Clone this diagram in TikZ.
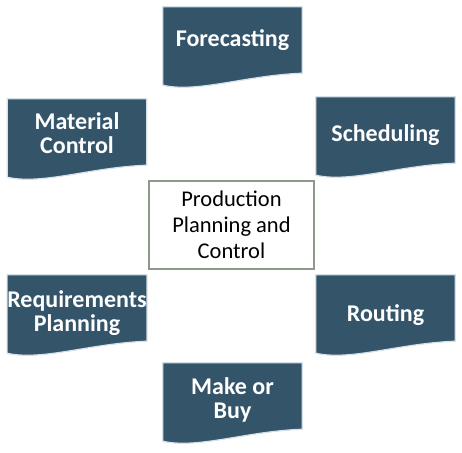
\documentclass[tikz,border=0pt]{standalone}
\usepackage{fontspec}
\setmainfont{Carlito}
\usetikzlibrary{calc,backgrounds}
\definecolor{docColor}{HTML}{34546A}
\definecolor{edgeColor}{RGB}{214,224,232}
\definecolor{frameColor}{RGB}{140,155,135}
\tikzset{
  doc/.style={minimum width=139pt, minimum height=66pt, inner sep=0pt,
    text=white, align=center, font=\bfseries\fontsize{24}{24}\selectfont},
  docfill/.style={fill=docColor, draw=edgeColor, line width=1.2pt},
  centre/.style={draw=frameColor, line width=2pt, minimum width=165pt,
    minimum height=88pt, inner sep=0pt, align=center,
    font=\fontsize{22.5}{26}\selectfont}
}
% document shape behind a named node, optionally raised by #1
\newcommand\docshape[2][0]{%
  \begin{scope}[on background layer]
    \path[docfill] ($(#2.north west)+(0,-#1)$) -- ($(#2.north east)+(0,-#1)$)
      -- ($(#2.south east)+(0,-#1)$)
      .. controls ($(#2.south east)+(-56,2-#1)$) and ($(#2.south west)+(35,20-#1)$)
      .. ($(#2.south west)+(0,12-#1)$) -- cycle;
  \end{scope}}
\begin{document}
\begin{tikzpicture}[x=1pt,y=-1pt]
\useasboundingbox (0,0) rectangle (462,452);
\node[centre] (ppc) at (231.5,225) {Production\\Planning and\\Control};
\node[doc] (fore) at (232.5,40) {Forecasting};
\node[doc] (sched) at (385.5,135) {Scheduling};
\node[doc] (matc) at (77,133) {Material\\Control};
\node[doc] (reqp) at (77,313) {Requirements\\Planning};
\node[doc] (rout) at (385.5,315) {Routing};
\node[doc] (mob) at (232.5,400) {Make or\\Buy};
\docshape{fore}
\docshape[5]{sched}
\docshape[1]{matc}
\docshape[5]{reqp}
\docshape[7]{rout}
\docshape[4]{mob}
\end{tikzpicture}
\end{document}
